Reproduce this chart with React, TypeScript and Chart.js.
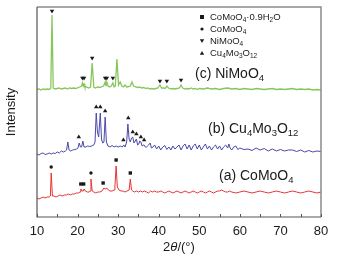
import React, { useEffect, useRef } from 'react';
import { Chart, registerables } from 'chart.js';
Chart.register(...registerables);

const FONT = 'Arial, "Liberation Sans", Helvetica, sans-serif';

// Angle range (2θ, degrees)
const X_MIN = 10;
const X_MAX = 80;
const X_STEP = 10;
const X_MINOR_STEP = 5;

// (c) NiMoO4 — green trace
const NIMOO4_X = [10,10.5,11,11.5,12,12.5,13,13.4,13.7,14,14.5,15,15.5,16,16.5,17,17.5,18,18.5,19,19.5,20,20.5,21,21.2,21.4,21.6,21.8,22.2,22.7,23.2,23.6,24,24.4,24.9,25.4,25.9,26.4,26.8,27,27.2,27.5,27.9,28.3,28.7,29,29.3,29.7,30.1,30.5,30.9,31.3,31.7,32.1,32.6,33,33.4,33.8,34.3,34.8,35.3,35.8,36.3,36.8,37.3,37.8,38.3,38.8,39.3,39.8,40.3,40.7,41.2,41.6,42,42.4,43,43.5,44,44.5,45.1,45.5,45.9,46.5,47,47.5,48,48.5,49,49.5,50,51,52,53,54,55,56,57,58,59,60,61,62,63,64,65,66,67,68,69,70,71,72,73,74,75,76,77,78,79,80];
const NIMOO4_Y = [127.5,128,127,128,127.5,128,127.5,129,202,129,128,128.5,129,128,128.5,129,128,129,128.5,129,128.5,129,130,131,134,131,133,130,130,129,130,154,130,129,130,129.5,130,131,135,131,135,131,130,131,134,130,131,158,132,135,131,130,132,130,130.5,131,135,131,130,129.5,130,129,129.5,128.5,129,128,128.5,128,128.5,129,132,129,129,128.5,131,129,128,128.5,128,128.5,129,132,129,128,128.5,128,129,128,128.5,127.5,128.5,128,129,128,128.5,127.5,128.5,129,128,128.5,127.5,128.5,128,127.5,128.5,128,127.5,128,128.5,127.5,128,127.5,128,128.5,127.5,128,127.5,128,127,127.5,127];

// (b) Cu4Mo3O12 — blue trace
const CUMO_X = [10,10.5,11,11.5,12,12.5,13,13.5,14,14.5,15,15.5,16,16.5,17,17.3,17.6,17.9,18.3,18.8,19.3,19.8,20.1,20.4,20.7,21,21.3,21.6,22,22.5,23,23.5,24,24.3,24.6,24.9,25.2,25.6,25.9,26.2,26.5,26.8,27.1,27.5,28,28.5,29,29.5,30,30.5,31,31.4,31.7,32.1,32.4,32.7,33,33.3,33.6,33.9,34.2,34.5,34.8,35.1,35.3,35.6,35.9,36.2,36.4,36.7,37,37.5,37.9,38.2,38.6,39,39.5,40,40.5,41,41.5,42,42.5,43,43.5,44,44.5,45,45.5,46,46.5,47,47.5,48,48.5,49,49.5,50,50.5,51,51.5,52,52.5,53,53.5,54,54.5,55,55.5,56,56.5,57,57.3,57.6,58,58.5,59,59.5,60,61,62,63,64,65,66,67,68,69,70,71,72,73,74,75,76,77,78,79,80];
const CUMO_Y = [63,62,63.5,64,62.5,63,64,63,64,63.5,65,64,66,65,66,67,75,67,66,67,67.5,68,69,74,70,70,76,70,70,71,70.5,71,72,75,104,85,80,104,78,74,75,100,75,71,70,71.5,70,71,70,71,70,72,70,75,93,78,75,79,80,74,76,78,72,73,76,75,71,72,72,70,70,72,74,69,70,72,68,71,67,70,71.5,67.5,70,67,71,68,70,72,67,71,73,68,72,67,71,73,68,72,67,70,73,68,71,67,70,72,68,71,67,70,72,69,73,69,67,70,71,67.5,69,67.5,68,66.5,69,67,68.5,66,68,66,67.5,66,67,67,65.5,67,65,66.5,65,66,65.5,65];

// (a) CoMoO4 — red trace
const COMOO4_X = [10,10.5,11,11.5,12,12.5,13,13.3,13.5,13.8,14.2,14.7,15.2,15.7,16.2,16.7,17.2,17.7,18.2,18.7,19.2,19.7,20.2,20.6,20.8,21.1,21.4,21.6,21.9,22.4,22.9,23.1,23.3,23.6,24,24.5,25,25.5,26,26.5,26.8,27.2,27.6,28,28.5,29,29.2,29.5,29.8,30.2,30.7,31.2,31.7,32.2,32.7,33,33.3,33.6,34,34.5,35,35.5,36,36.5,37,37.5,38,38.5,39,39.5,40,40.5,41,41.5,42,42.5,43,43.5,44,44.5,45,45.5,46,46.5,47,47.5,48,48.5,49,49.5,50,50.5,51,51.5,52,52.5,53,53.5,54,54.5,55,55.5,56,56.5,57,57.5,58,59,60,61,62,63,64,65,66,67,68,69,70,71,72,73,74,75,76,77,78,79,80];
const COMOO4_Y = [19,18,19,20,19,20,20,21,44,21,21,20,21,22,21,22,22,23,22,23,23,24,24,25,28,26,26,28,26,25,25,26,38,26,25,24,25,25,26,29,28,29,27,26,26,27,30,51,30,27,26,26,25,26,27,38,27,26,25,26,25,26,25,26,25,24,26,25,26,25,25,26,25,24,25,26,25,24,25,26,25,24,25,26,25,24,25,26,25,24,25,26,25,24,25,26,25,24,25,26,26,27,26,25,25,26,25,24,25,26,25,24,25,26,25,24,25,26,25,24,25,26,25,24,25,26,25,24,25];

// Phase markers (x = 2θ of the peak, y = marker height)
const NIMOO4_MARK_X = [13.7,21.2,21.6,23.6,26.8,27.2,28.7,40.3,42.0,45.5];
const NIMOO4_MARK_Y = [206,139,139,159,139,139,139,136,136,137];
const CUMO_MARK_X = [20.3,24.6,25.6,26.8,31.3,32.5,33.6,34.5,35.6,36.4];
const CUMO_MARK_Y = [80,110,110,106,77,99,85,83,80,77];
const COMOO4_MARK_X = [13.5,23.3];
const COMOO4_MARK_Y = [50,44];
const HYDRATE_MARK_X = [20.8,21.5,26.3,29.5,33.0];
const HYDRATE_MARK_Y = [33,33,34,57,44];

const GREEN = '#86c75c';
const BLUE = '#4a48a8';
const RED = '#e53434';
const INK = '#1a1a1a';

type Part = { t: string; s?: 'sub' | 'it' };

const LEGEND: { marker: 'rect' | 'circle' | 'down' | 'up'; parts: Part[] }[] = [
  { marker: 'rect', parts: [{ t: 'CoMoO' }, { t: '4', s: 'sub' }, { t: '·0.9H' }, { t: '2', s: 'sub' }, { t: 'O' }] },
  { marker: 'circle', parts: [{ t: 'CoMoO' }, { t: '4', s: 'sub' }] },
  { marker: 'down', parts: [{ t: 'NiMoO' }, { t: '4', s: 'sub' }] },
  { marker: 'up', parts: [{ t: 'Cu' }, { t: '4', s: 'sub' }, { t: 'Mo' }, { t: '3', s: 'sub' }, { t: 'O' }, { t: '12', s: 'sub' }] },
];

const LABEL_C: Part[] = [{ t: '(c) NiMoO' }, { t: '4', s: 'sub' }];
const LABEL_B: Part[] = [{ t: '(b) Cu' }, { t: '4', s: 'sub' }, { t: 'Mo' }, { t: '3', s: 'sub' }, { t: 'O' }, { t: '12', s: 'sub' }];
const LABEL_A: Part[] = [{ t: '(a) CoMoO' }, { t: '4', s: 'sub' }];
const X_TITLE: Part[] = [{ t: '2' }, { t: 'θ', s: 'it' }, { t: '/(°)' }];

function fontFor(p: Part, size: number) {
  if (p.s === 'sub') return `${(size * 0.68).toFixed(1)}px ${FONT}`;
  if (p.s === 'it') return `italic ${size}px ${FONT}`;
  return `${size}px ${FONT}`;
}

function drawRich(ctx: CanvasRenderingContext2D, x: number, y: number, parts: Part[], size: number, align: 'left' | 'center' = 'left') {
  let total = 0;
  for (const p of parts) {
    ctx.font = fontFor(p, size);
    total += ctx.measureText(p.t).width;
  }
  let cx = align === 'center' ? x - total / 2 : x;
  ctx.textAlign = 'left';
  ctx.textBaseline = 'middle';
  ctx.fillStyle = INK;
  for (const p of parts) {
    ctx.font = fontFor(p, size);
    ctx.fillText(p.t, cx, y + (p.s === 'sub' ? size * 0.32 : 0));
    cx += ctx.measureText(p.t).width;
  }
}

function drawMarker(ctx: CanvasRenderingContext2D, kind: string, x: number, y: number) {
  ctx.fillStyle = INK;
  ctx.beginPath();
  if (kind === 'rect') {
    ctx.rect(x - 2, y - 2, 4, 4);
  } else if (kind === 'circle') {
    ctx.arc(x, y, 1.6, 0, Math.PI * 2);
  } else if (kind === 'down') {
    ctx.moveTo(x - 2.2, y - 1.8);
    ctx.lineTo(x + 2.2, y - 1.8);
    ctx.lineTo(x, y + 2);
    ctx.closePath();
  } else {
    ctx.moveTo(x - 2.2, y + 1.8);
    ctx.lineTo(x + 2.2, y + 1.8);
    ctx.lineTo(x, y - 2);
    ctx.closePath();
  }
  ctx.fill();
}

const decorPlugin = {
  id: 'decor',
  afterDraw(chart: any) {
    const ctx: CanvasRenderingContext2D = chart.ctx;
    const { left, right, top, bottom } = chart.chartArea;
    const xs = chart.scales.x;
    ctx.save();
    // frame
    ctx.lineWidth = 1.5;
    ctx.strokeStyle = '#8a8a8a';
    ctx.beginPath();
    ctx.moveTo(left, top);
    ctx.lineTo(right, top);
    ctx.lineTo(right, bottom);
    ctx.stroke();
    ctx.lineWidth = 1.2;
    ctx.strokeStyle = '#555';
    ctx.beginPath();
    ctx.moveTo(left, top);
    ctx.lineTo(left, bottom);
    ctx.lineTo(right, bottom);
    ctx.stroke();
    // inward ticks
    ctx.lineWidth = 1;
    ctx.beginPath();
    for (let v = X_MIN; v <= X_MAX; v += X_MINOR_STEP) {
      const px = Math.round(xs.getPixelForValue(v)) + 0.5;
      ctx.moveTo(px, bottom);
      ctx.lineTo(px, bottom - 3);
    }
    ctx.stroke();
    // trace labels
    drawRich(ctx, 195, 74, LABEL_C, 14);
    drawRich(ctx, 208, 129, LABEL_B, 14);
    drawRich(ctx, 219, 176, LABEL_A, 14);
    // legend
    LEGEND.forEach((row, i) => {
      const y = 17 + i * 12;
      drawMarker(ctx, row.marker, 202, y);
      drawRich(ctx, 210, y, row.parts, 9.5);
    });
    // x axis title
    drawRich(ctx, (left + right) / 2, 247, X_TITLE, 13, 'center');
    ctx.restore();
  },
};

function toPoints(xs: number[], ys: number[]) {
  return xs.map((x, i) => ({ x, y: ys[i] }));
}

export default function App() {
  const ref = useRef<HTMLCanvasElement | null>(null);
  useEffect(() => {
    document.body.style.margin = '0';
    const canvas = ref.current;
    if (!canvas) return;
    const line = (xs: number[], ys: number[], color: string, width = 1) => ({
      data: toPoints(xs, ys),
      showLine: true,
      borderColor: color,
      borderWidth: width,
      pointRadius: 0,
      tension: 0,
      order: 2,
    });
    const marks = (xs: number[], ys: number[], style: string, radius: number, rotation = 0) => ({
      data: toPoints(xs, ys),
      showLine: false,
      pointStyle: style,
      pointRadius: radius,
      pointRotation: rotation,
      pointBackgroundColor: INK,
      pointBorderColor: INK,
      pointBorderWidth: 0,
      order: 1,
    });
    const chart = new Chart(canvas, {
      type: 'scatter',
      data: {
        datasets: [
          line(NIMOO4_X, NIMOO4_Y, GREEN, 1.3),
          line(CUMO_X, CUMO_Y, BLUE),
          line(COMOO4_X, COMOO4_Y, RED),
          marks(NIMOO4_MARK_X, NIMOO4_MARK_Y, 'triangle', 2.6, 180),
          marks(CUMO_MARK_X, CUMO_MARK_Y, 'triangle', 2.6, 0),
          marks(COMOO4_MARK_X, COMOO4_MARK_Y, 'circle', 1.7),
          marks(HYDRATE_MARK_X, HYDRATE_MARK_Y, 'rect', 2.4),
        ] as any,
      },
      options: {
        animation: false,
        responsive: false,
        devicePixelRatio: 1,
        events: [],
        layout: { padding: { top: 7, right: 18, left: 0, bottom: 0 } },
        plugins: { legend: { display: false }, tooltip: { enabled: false } },
        scales: {
          x: {
            type: 'linear',
            min: X_MIN,
            max: X_MAX,
            ticks: { stepSize: X_STEP, font: { size: 13, family: FONT }, color: INK, padding: 7, maxRotation: 0, autoSkip: false },
            grid: { display: false, drawTicks: false },
            border: { display: false },
            afterFit: (s: any) => { s.height = 43; },
          },
          y: {
            type: 'linear',
            min: 0,
            max: 210,
            ticks: { display: false },
            grid: { display: false, drawTicks: false },
            border: { display: false },
            title: { display: true, text: 'Intensity', font: { size: 13, family: FONT }, color: INK, padding: { top: 4, bottom: 0 } },
            afterFit: (s: any) => { s.width = 37; },
          },
        },
      } as any,
      plugins: [decorPlugin],
    });
    return () => chart.destroy();
  }, []);
  return (
    <div style={{ width: 339, height: 260 }}>
      <canvas ref={ref} width={339} height={260} style={{ display: 'block' }} />
    </div>
  );
}
